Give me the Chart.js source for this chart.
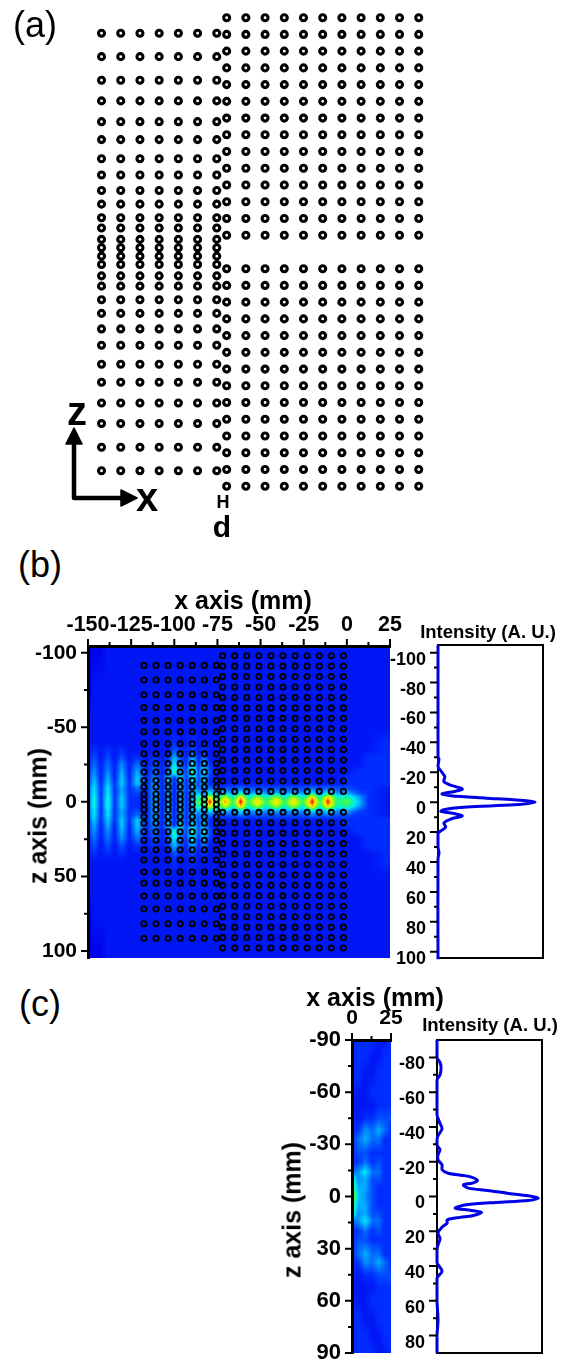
<!DOCTYPE html>
<html lang="en">
<head>
<meta charset="UTF-8">
<title>Lattice field and intensity profiles</title>
<script src="https://cdn.jsdelivr.net/npm/chart.js"></script>
<style>
    html, body { margin: 0; padding: 0; background: #fff; }
    body { position: relative; width: 565px; height: 1360px; overflow: hidden; font-family: "Liberation Sans", Arial, sans-serif; color: #000; }
    canvas { position: absolute; }
    .lbl { position: absolute; white-space: nowrap; transform: translate(-50%, -50%); line-height: 1; }
    .b { font-weight: bold; }
    svg { position: absolute; left: 0; top: 0; }
</style>
</head>
<body>
<svg width="565" height="540">
    <path d="M74 498V440M74 498H124" fill="none" stroke="#000" stroke-width="4.5" stroke-linecap="round"/>
    <path d="M74 428L82 444H66ZM137 498L121 490V506Z" fill="#000" stroke="#000" stroke-width="1.5" stroke-linejoin="round"/>
</svg>
<canvas id="chartA" width="565" height="540" style="left:0px;top:0px"></canvas>
<canvas id="chartB" width="415" height="360" style="left:0px;top:610px"></canvas>
<canvas id="profileB" width="170" height="340" style="left:385px;top:635px"></canvas>
<canvas id="chartC" width="136" height="355" style="left:280px;top:1005px"></canvas>
<canvas id="profileC" width="170" height="340" style="left:384px;top:1030px"></canvas>

<div class="lbl" style="left:35px;top:25px;font-size:36px">(a)</div>
<div class="lbl" style="left:40px;top:565px;font-size:36px">(b)</div>
<div class="lbl" style="left:40px;top:1004px;font-size:36px">(c)</div>
<div class="lbl b" style="left:77px;top:411px;font-size:40px">z</div>
<div class="lbl b" style="left:147px;top:497px;font-size:40px">x</div>
<div class="lbl b" style="left:223px;top:502px;font-size:18px">H</div>
<div class="lbl b" style="left:222px;top:527px;font-size:30px">d</div>
<div class="lbl b" style="left:243px;top:600px;font-size:25px">x axis (mm)</div>
<div class="lbl b" style="left:38px;top:816px;font-size:25px;transform:translate(-50%,-50%) rotate(-90deg)">z axis (mm)</div>
<div class="lbl b" style="left:488px;top:632px;font-size:18.5px">Intensity (A. U.)</div>
<div class="lbl b" style="left:375px;top:997px;font-size:25px">x axis (mm)</div>
<div class="lbl b" style="left:292px;top:1210px;font-size:25px;transform:translate(-50%,-50%) rotate(-90deg)">z axis (mm)</div>
<div class="lbl b" style="left:490px;top:1025px;font-size:18.5px">Intensity (A. U.)</div>

<script>
// lattice positions in mm
const leftColsX = [-117.6, -110.6, -103.6, -96.6, -89.6, -82.6, -75.6];
const rightColsX = [-72, -65, -58, -51, -44, -37, -30, -23, -16, -9, -2];
const leftRowsZ = [-91.5, -81.7, -71.8, -63.2, -54.5, -47, -39, -32.2, -25.7, -20, -14.3, -10, -5.25, -1.75,
                   1.75, 5.25, 10, 14.3, 20, 25.7, 32.2, 39, 47, 54.5, 63.2, 71.8, 81.7, 91.5];
const rightRowsZ = [-98, -91, -84, -77, -70, -63, -56, -49, -42, -35, -28, -21, -14, -7,
                    7, 14, 21, 28, 35, 42, 49, 56, 63, 70, 77, 84, 91, 98];

const fieldBX = [-150, -146.5, -142.5, -138.5, -134.5, -130.5, -126, -121.5, -116, -111, -107, -103.5, -100, -96.5, -93, -89.5, -86, -83, -79.5,
                 -75, -70.5, -66, -61.5, -57, -52, -46.5, -41, -36, -31, -25.5, -20, -15.5, -11, -5.5, 0, 6.5, 12.5, 25];
const fieldBZ = [0, 3, 6, 9, 12, 16, 20, 25, 30, 35, 40, 50, 60, 75, 105];
const fieldB = [
    [1.5,4.5,1,4.5,1,3.5,1,1,.7,3,.7,3,.7,3,1,3,6,5,10,5.5,9,5.5,10,5.5,8.5,5.5,8.5,5.5,8.5,5.5,10,5.5,10,5,6,3.5,1,.5],
    [1.5,4.5,1,4.5,1,3.5,1,1,.7,3,.7,3,.7,3,1,3,5,4,8,4.5,7.5,4.5,8.5,4.5,7,4.5,7,4.5,7,4.5,8.5,4.5,8.5,4.5,5,3,1,.5],
    [1.5,4,1,4,1,3,1,1.5,.7,3,.7,3,.7,3,1,3,3,2.5,4,2.5,3.5,2.5,4,2.5,3,2.5,3,2.5,3,2.5,4,2.5,4,2.5,3,1.5,1,.5],
    [1.5,4,1,4,1,3,1,2,.7,3,.7,3,.7,3,1,3,2,2,2,1.5,1.5,1.5,2,1.5,1.5,1.5,1.5,1.5,1.5,1.5,2,1.5,2,1.5,1.5,1,1,.5],
    [1.2,3.5,1,3.5,1,3.5,1,3.5,.7,3,.7,3,.7,3,1,3,1.5,3,1,.7,.7,.7,.7,.7,.7,.7,.7,.7,.7,.7,.7,.7,.7,.7,1,1,1,1],
    [1,3,.7,3,.7,3.5,.7,3.5,.7,2.5,.7,3.5,1,4,1,4,1.5,3,1,.5,.5,.5,.5,.5,.5,.5,.5,.5,.5,.5,.5,.5,.5,.5,1,1,1,1],
    [1,2.5,.7,2.5,.7,3,.7,3,.7,2,.7,2,5,2.5,1.5,5,1.5,4,1.5,.5,.5,.5,.5,.5,.5,.5,.5,.5,.5,.5,.5,.5,.5,.5,.5,1,1,1],
    [.7,2,.7,2,.7,2.5,.7,2,.7,1.5,.7,1.5,4,2,1,4,1,3,1,.5,.5,.5,.5,.5,.5,.5,.5,.5,.5,.5,.5,.5,.5,.5,.5,.5,1,1],
    [.7,1.5,.5,1.5,.5,1.5,.5,1,.5,1,.5,1,3,1.5,.7,3,.7,2,.5,.5,.5,.5,.5,.5,.5,.5,.5,.5,.5,.5,.5,.5,.5,.5,.5,.5,1,1],
    [.5,1,.5,1,.5,1,.5,.5,.5,.5,.5,.5,1.5,1,.5,1.5,.5,1,.5,.5,.5,.5,.5,.5,.5,.5,.5,.5,.5,.5,.5,.5,.5,.5,.5,.5,.5,1],
    [.5,.5,.5,.5,.5,.5,.5,.5,.5,.5,.5,.5,1,.5,.5,1,.5,.5,.5,.5,.5,.5,.5,.5,.5,.5,.5,.5,.5,.5,.5,.5,.5,.5,.5,.5,.5,1],
    [.5,.5,.5,.5,.5,.5,.5,.5,.5,.5,.5,.5,.5,.5,.5,.5,.5,.5,.5,.5,.5,.5,.5,.5,.5,.5,.5,.5,.5,.5,.5,.5,.5,.5,.5,.5,.5,.5],
    [.5,.5,.5,.5,.5,.5,.5,.5,.5,.5,.5,.5,.5,.5,.5,.5,.5,.5,.5,.5,.5,.5,.5,.5,.5,.5,.5,.5,.5,.5,.5,.5,.5,.5,.5,.5,.5,.5],
    [0,.5,.5,.5,.5,.5,.5,.5,.5,.5,.5,.5,.5,.5,.5,.5,.5,.5,.5,.5,.5,.5,.5,.5,.5,.5,.5,.5,.5,.5,.5,.5,.5,.5,.5,.5,.5,.5],
    [0,0,0,.5,.5,.5,.5,.5,.5,.5,.5,.5,.5,.5,.5,.5,.5,.5,.5,.5,.5,.5,.5,.5,.5,.5,.5,.5,.5,.5,.5,.5,.5,.5,.5,.5,.5,.5]
];

// panel (c) field
const fieldCX = [0, 4, 8.5, 13, 17, 21, 25];
const fieldCZ = [0, 5, 10, 14, 20, 25, 33, 38, 45, 52, 60, 70, 80, 90];
const fieldC = [
    [7, 3.5, 2.5, 1.5, 1, 1, 1],
    [6, 3, 3, 1.5, 1, 1, 1],
    [5, 2.5, 3, 1.5, 1.5, 1, 1],
    [2, 2.5, 4, 2, 2, 1, 1],
    [1, 1, 2, 1, 1.5, 1, 1],
    [1, 1.5, 1.5, 1, 1, 1, 1],
    [1, 2, 3, 2, 2, 1, 1],
    [1, 1, 2.5, 2, 3, 2, 1],
    [1, .5, 1, 1, 1.5, 1.5, 1.5],
    [.5, .5, .5, .5, 1, 1, 1],
    [1, .5, .5, 1, 1, 1, 1],
    [1, 1, .5, .5, 1, 1, 1],
    [1, 1, 1, .5, .5, 1, 1],
    [1, 1, 1, 1, .5, .5, 1]
];

// intensity profiles, z in mm and intensity relative to the peak
const profileBZ = [-105, -30, -29, -24, -20, -17, -13.8, -11.6, -9.3, -8.5, -7, -5.6, -4.3, -2.7, -1.6, 0,
                   1.8, 3.3, 5, 6.2, 7.5, 9.3, 11.3, 14, 16.7, 19.6, 21, 30, 34, 38, 105];
const profileBI = [0, 0, .01, 0, .04, .07, .06, .12, .24, .25, .16, .04, .13, .5, .78, 1,
                   .78, .3, .06, .03, .16, .25, .13, .06, .08, .02, 0, 0, .01, 0, 0];
const profileCZ = [-90, -80, -77, -74, -70, -67, -58, -47, -45, -42, -39, -35, -32.6, -29.7, -26.9, -24, -21.1, -18.2, -15.4, -13.4, -12.1, -11.1, -9.2, -7.7,
                   -6.7, -4.8, -3.5, -1.9, -.4, .9, 2.3, 3.4, 4.8, 6.7, 8, 9.2, 11.1, 12, 13.4, 15.3, 17.6, 21, 24.3, 27.8, 30.6, 38, 43, 47, 60, 71, 80, 90];
const profileCI = [0, 0, .03, .04, .03, 0, 0, 0, .01, .03, .05, .01, 0, 0, .03, .01, .01, .05, .05, .11, .26, .34, .4, .35,
                   .26, .31, .5, .69, .9, 1, .9, .58, .29, .18, .34, .44, .35, .23, .1, .1, .05, .01, .03, .01, 0, 0, .05, 0, 0, .01, 0, 0];

// tick values
const bXMajor = [-150, -125, -100, -75, -50, -25, 0, 25];
const bXMinor = [-137.5, -112.5, -87.5, -62.5, -37.5, -12.5, 12.5];
const bZMajor = [-100, -50, 0, 50, 100];
const bZMinor = [-75, -25, 25, 75];
const cXMajor = [0, 25];
const cXMinor = [12.5];
const cZMajor = [-90, -60, -30, 0, 30, 60, 90];
const cZMinor = [-75, -45, -15, 15, 45, 75];
const profBMajor = [-100, -80, -60, -40, -20, 0, 20, 40, 60, 80, 100];
const profBMinor = [-90, -70, -50, -30, -10, 10, 30, 50, 70, 90];
const profCMajor = [-80, -60, -40, -20, 0, 20, 40, 60, 80];
const profCMinor = [-70, -50, -30, -10, 10, 30, 50, 70];

// colour stops for levels 0..10
const colourStops = [[0,0,235],[0,45,255],[0,110,255],[0,175,255],[0,235,245],[20,250,140],[90,250,60],[170,250,20],[250,240,0],[255,130,0],[235,0,0]];

function colourAt(v) {
    const i = Math.min(Math.floor(v), 9), f = v - i;
    return colourStops[i].map((c, k) => c + (colourStops[i + 1][k] - c) * f);
}

function segment(list, v) {
    let i = 0;
    while (i < list.length - 2 && list[i + 1] < v) i++;
    const f = (v - list[i]) / (list[i + 1] - list[i]);
    return [i, Math.max(0, Math.min(1, f))];
}

// paints the field behind the dots, going through the chart's scales
const fieldPlugin = {
    id: 'field',
    beforeDatasetsDraw(chart, args, opts) {
        if (!opts.rows) return;
        const a = chart.chartArea, w = Math.round(a.right - a.left), h = Math.round(a.bottom - a.top);
        const off = document.createElement('canvas');
        off.width = w; off.height = h;
        const octx = off.getContext('2d');
        const img = octx.createImageData(w, h);
        for (let py = 0; py < h; py++) {
            const [j, fz] = segment(opts.zs, Math.abs(chart.scales.y.getValueForPixel(a.top + py + 0.5)));
            for (let px = 0; px < w; px++) {
                const [i, fx] = segment(opts.xs, chart.scales.x.getValueForPixel(a.left + px + 0.5));
                const top = opts.rows[j][i] * (1 - fx) + opts.rows[j][i + 1] * fx;
                const bot = opts.rows[j + 1][i] * (1 - fx) + opts.rows[j + 1][i + 1] * fx;
                const c = colourAt(top * (1 - fz) + bot * fz), o = (py * w + px) * 4;
                img.data[o] = c[0]; img.data[o + 1] = c[1]; img.data[o + 2] = c[2]; img.data[o + 3] = 255;
            }
        }
        octx.putImageData(img, 0, 0);
        chart.ctx.drawImage(off, a.left, a.top);
    }
};

// long ticks where there is a label, short ones elsewhere; optional frame under the line
const tickPlugin = {
    id: 'tickMarks',
    beforeDatasetsDraw(chart, args, opts) {
        if (!opts.frame) return;
        const a = chart.chartArea;
        chart.ctx.save();
        chart.ctx.strokeStyle = '#000';
        chart.ctx.lineWidth = 2;
        chart.ctx.strokeRect(a.left, a.top, a.right - a.left, a.bottom - a.top);
        chart.ctx.restore();
    },
    afterDatasetsDraw(chart, args, opts) {
        const ctx = chart.ctx, a = chart.chartArea;
        ctx.save();
        ctx.strokeStyle = '#000';
        ctx.lineWidth = 2;
        ctx.beginPath();
        for (const id of ['x', 'y']) {
            const s = chart.scales[id];
            if (!s.options.display) continue;
            s.ticks.forEach(t => {
                const p = s.getPixelForValue(t.value), len = t.label ? opts.major : opts.minor;
                if (id === 'x') { ctx.moveTo(p, a.top); ctx.lineTo(p, a.top - len); }
                else { ctx.moveTo(a.left, p); ctx.lineTo(a.left - len, p); }
            });
        }
        ctx.stroke();
        ctx.restore();
    }
};

function axis(opts) {
    const major = opts.major, minor = opts.minor;
    return {
        type: 'linear', position: opts.position, min: opts.min, max: opts.max, reverse: !!opts.reverse,
        grid: { display: false, drawTicks: false },
        border: { display: !opts.noLine, color: '#000', width: 3, z: 1 },
        afterBuildTicks: s => { s.ticks = major.concat(minor).sort((p, q) => p - q).map(v => ({ value: v })); },
        afterFit: s => {
            if (opts.position === 'left') s.width = opts.size; else s.height = opts.size;
            // the plot box comes from layout.padding only, labels may hang outside it
            s.paddingTop = s.paddingBottom = s.paddingLeft = s.paddingRight = 0;
        },
        ticks: {
            autoSkip: false, maxRotation: 0, minRotation: 0, color: '#000',
            padding: opts.pad, labelOffset: opts.labelOffset || 0,
            font: { family: '"Liberation Sans", Arial, sans-serif', weight: 'bold', size: opts.font },
            callback: v => major.includes(v) ? String(v) : ''
        }
    };
}

const noLegend = { legend: { display: false }, tooltip: { enabled: false } };

function latticeData(radius, border) {
    const style = { showLine: false, pointRadius: radius, pointBorderWidth: border, pointBorderColor: '#000', pointBackgroundColor: 'rgba(0,0,0,0)' };
    return [
        { ...style, data: leftColsX.flatMap(x => leftRowsZ.map(z => ({ x: x, y: z }))) },
        { ...style, data: rightColsX.flatMap(x => rightRowsZ.map(z => ({ x: x, y: z }))) }
    ];
}

// panel (a)
new Chart(document.getElementById('chartA'), {
    type: 'scatter',
    data: { datasets: latticeData(3, 3.1) },
    options: {
        responsive: false, animation: false, events: [],
        layout: { autoPadding: false },
        plugins: noLegend,
        scales: {
            x: { display: false, min: -154.6, max: 51.3 },
            y: { display: false, min: -105.4, max: 120.5, reverse: true }
        }
    }
});

// panel (b) field
new Chart(document.getElementById('chartB'), {
    type: 'scatter',
    data: { datasets: latticeData(2.6, 1.9) },
    options: {
        responsive: false, animation: false, events: [],
        layout: { autoPadding: false, padding: { right: 25, bottom: 12 } },
        plugins: { ...noLegend, field: { xs: fieldBX, zs: fieldBZ, rows: fieldB }, tickMarks: { major: 7, minor: 4 } },
        scales: {
            x: axis({ position: 'top', min: -150, max: 25, major: bXMajor, minor: bXMinor, size: 36, pad: 8, font: 21.5 }),
            y: axis({ position: 'left', min: -104.5, max: 104.7, reverse: true, major: bZMajor, minor: bZMinor, size: 88, pad: 11, font: 21 })
        }
    },
    plugins: [fieldPlugin, tickPlugin]
});

function profileChart(id, zs, is, xMax, yMin, yMax, major, minor, left) {
    new Chart(document.getElementById(id), {
        type: 'scatter',
        data: { datasets: [{
            data: zs.map((z, i) => ({ x: is[i], y: z })),
            showLine: true, clip: false, pointRadius: 0, tension: 0.3,
            borderColor: '#0000e6', borderWidth: 3
        }] },
        options: {
            responsive: false, animation: false, events: [],
            layout: { autoPadding: false, padding: { top: 10, right: 12, bottom: 17 } },
            plugins: { ...noLegend, tickMarks: { frame: true, major: 8, minor: 4 } },
            scales: {
                x: { display: false, min: 0, max: xMax },
                y: axis({ position: 'left', min: yMin, max: yMax, reverse: true, major: major, minor: minor, size: left, pad: 12, font: 18, labelOffset: 7, noLine: true })
            }
        },
        plugins: [tickPlugin]
    });
}

profileChart('profileB', profileBZ, profileBI, 1.082, -105.1, 104.2, profBMajor, profBMinor, 53);

// panel (c) field
new Chart(document.getElementById('chartC'), {
    type: 'scatter',
    data: { datasets: [] },
    options: {
        responsive: false, animation: false, events: [],
        layout: { autoPadding: false, padding: { right: 25, bottom: 7 } },
        plugins: { ...noLegend, field: { xs: fieldCX, zs: fieldCZ, rows: fieldC }, tickMarks: { major: 7, minor: 4 } },
        scales: {
            x: axis({ position: 'top', min: 0, max: 25, major: cXMajor, minor: cXMinor, size: 35, pad: 9, font: 21 }),
            y: axis({ position: 'left', min: -90, max: 90, reverse: true, major: cZMajor, minor: cZMinor, size: 72, pad: 11, font: 22 })
        }
    },
    plugins: [fieldPlugin, tickPlugin]
});

profileChart('profileC', profileCZ, profileCI, 1.036, -90, 90, profCMajor, profCMinor, 53);
</script>
</body>
</html>
